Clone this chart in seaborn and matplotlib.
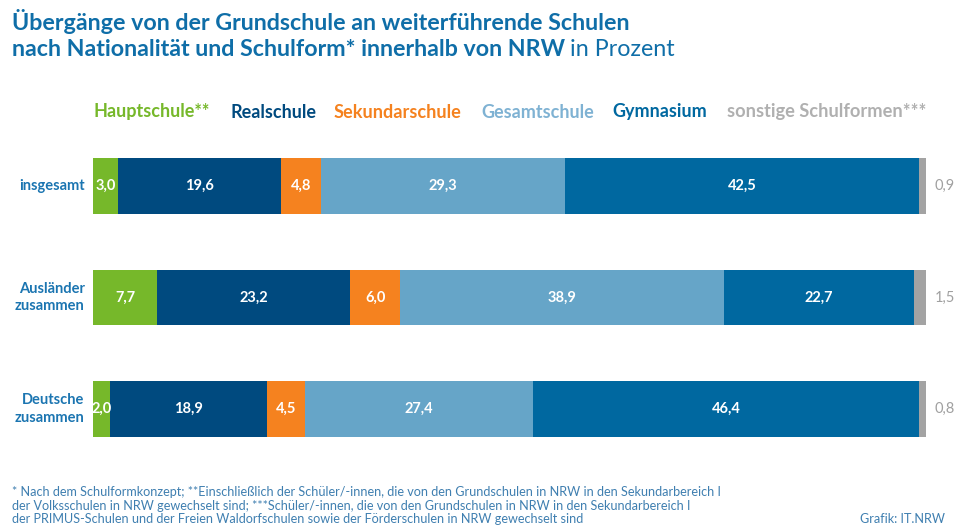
import numpy as np
import pandas as pd
import matplotlib
matplotlib.use("Agg")
import matplotlib.pyplot as plt
import seaborn as sns

sns.set_theme(style="white")
plt.rcParams['font.family'] = ['Lato', 'DejaVu Sans']

# Data
kategorien = ["insgesamt", "Ausländer\nzusammen", "Deutsche\nzusammen"]
schulformen = ["Hauptschule**", "Realschule", "Sekundarschule", "Gesamtschule",
               "Gymnasium", "sonstige Schulformen***"]
hauptschule = [3.0, 7.7, 2.0]
realschule = [19.6, 23.2, 18.9]
sekundarschule = [4.8, 6.0, 4.5]
gesamtschule = [29.3, 38.9, 27.4]
gymnasium = [42.5, 22.7, 46.4]
sonstige = [0.9, 1.5, 0.8]

farben = ["#76b82a", "#004a7f", "#f5821f", "#66a5c8", "#0068a0", "#a3a3a3"]
legend_farben = ["#76b82a", "#004a7f", "#f5821f", "#7fb2d3", "#0068a0", "#b0b0b0"]
titel_farbe = "#0f6ea8"
label_farbe = "#1b75b1"
fuss_farbe = "#3f7fb0"

werte = [hauptschule, realschule, sekundarschule, gesamtschule, gymnasium, sonstige]
df = pd.DataFrame({"Kategorie": kategorien})
for name, w in zip(schulformen, werte):
    df[name] = w
kum = df[schulformen].cumsum(axis=1)
starts = kum - df[schulformen]

W, H = 963, 528
fig = plt.figure(figsize=(9.63, 5.28), dpi=100)
ax = fig.add_axes([93 / W, 1 - 464.75 / H, 833 / W, 334.5 / H])
renderer = fig.canvas.get_renderer()


def fit(t, breite):
    # scale the font so the text gets the width it has in the reference
    fs = t.get_fontsize()
    w = t.get_window_extent(renderer=renderer).width
    t.set_fontsize(fs * breite / w)
    return t.get_fontsize()


# stacked bars: draw cumulative totals from the largest down
for i in reversed(range(len(schulformen))):
    plot_df = pd.DataFrame({"Kategorie": kategorien, "x": kum[schulformen[i]].values})
    sns.barplot(data=plot_df, x="x", y="Kategorie", color=farben[i], width=0.5,
                orient="h", ax=ax, saturation=1, linewidth=0)

ax.set_xlim(0, 100)
ax.set_ylim(2.5, -0.5)
ax.set_xlabel("")
ax.set_ylabel("")
ax.set_xticks([])
ax.set_yticks([])
for s in ax.spines.values():
    s.set_visible(False)


def fmt(v):
    return f"{v:.1f}".replace(".", ",")


for r in range(len(kategorien)):
    for i, name in enumerate(schulformen):
        v = df.loc[r, name]
        mitte = starts.loc[r, name] + v / 2
        if i == len(schulformen) - 1:
            ax.text(101, r, fmt(v), ha="left", va="center", color="#a0a0a0",
                    fontsize=10.5, clip_on=False)
        else:
            ax.text(mitte, r, fmt(v), ha="center", va="center", color="white",
                    fontsize=10.5, fontweight="bold")
    ax.text(-1, r, kategorien[r], ha="right", va="center", color=label_farbe,
            fontsize=10.5, fontweight="bold", linespacing=1.3, clip_on=False)

# legend as coloured text row
legend_x = [93, 230, 334, 481, 612, 727]
legend_w = [117, 86, 128, 113, 95, 199]
for name, x, bw, c in zip(schulformen, legend_x, legend_w, legend_farben):
    t = fig.text(x / W, 1 - 112 / H, name, ha="left", va="center", color=c,
                 fontsize=10, fontweight="bold")
    fit(t, bw)

# title
t1 = fig.text(12 / W, 1 - 22 / H, "Übergänge von der Grundschule an weiterführende Schulen",
              ha="left", va="center", color=titel_farbe, fontsize=15, fontweight="bold")
fs = fit(t1, 623)
t2 = fig.text(12 / W, 1 - 50 / H, "nach Nationalität und Schulform* innerhalb von NRW",
              ha="left", va="center", color=titel_farbe, fontsize=fs, fontweight="bold")
bb = t2.get_window_extent(renderer=renderer)
fig.text((bb.x1 + 5) / W, 1 - 50 / H, "in Prozent", ha="left", va="center",
         color=titel_farbe, fontsize=fs)

# footnotes
fussnoten = [
    "* Nach dem Schulformkonzept; **Einschließlich der Schüler/-innen, die von den Grundschulen in NRW in den Sekundarbereich I",
    "der Volksschulen in NRW gewechselt sind; ***Schüler/-innen, die von den Grundschulen in NRW in den Sekundarbereich I",
    "der PRIMUS-Schulen und der Freien Waldorfschulen sowie der Förderschulen in NRW gewechselt sind",
]
f1 = fig.text(12 / W, 1 - 492 / H, fussnoten[0], ha="left", va="center",
              color=fuss_farbe, fontsize=8)
ffs = fit(f1, 713)
for k, zeile in enumerate(fussnoten[1:], start=1):
    fig.text(12 / W, 1 - (492 + 13.5 * k) / H, zeile, ha="left", va="center",
             color=fuss_farbe, fontsize=ffs)
fig.text(945 / W, 1 - 519 / H, "Grafik: IT.NRW", ha="right", va="center",
         color=fuss_farbe, fontsize=ffs)

fig.savefig("out.png", dpi=100)
